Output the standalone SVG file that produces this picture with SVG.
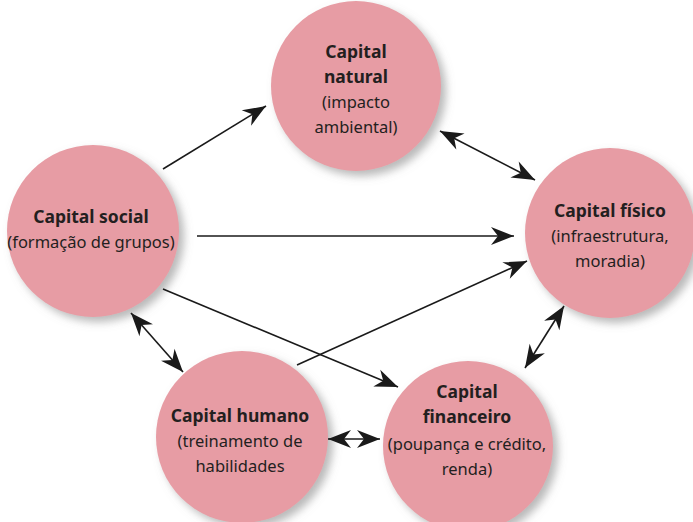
<svg xmlns="http://www.w3.org/2000/svg" width="693" height="522" viewBox="0 0 693 522">
  <defs>
    <filter id="shadow" x="-20%" y="-20%" width="150%" height="150%">
      <feDropShadow dx="5" dy="5" stdDeviation="4" flood-color="#808080" flood-opacity="0.55"/>
    </filter>
    <marker id="head" viewBox="-24 -10 26 20" refX="0" refY="0" markerWidth="26" markerHeight="20" markerUnits="userSpaceOnUse" orient="auto-start-reverse">
      <path d="M0,0 L-23,-9 L-16,0 L-23,9 Z" fill="#1a1a1a"/>
    </marker>
  </defs>
  <style>
    .node circle { fill: #e79ca4; filter: url(#shadow); }
    text { font-family: "Noto Sans", "Open Sans", sans-serif; font-size: 16.5px; fill: #231f20; text-anchor: middle; }
    .title { font-weight: bold; font-size: 17.5px; }
    .link { stroke: #1a1a1a; stroke-width: 1.6; fill: none; }
    .one { marker-end: url(#head); }
    .two { marker-start: url(#head); marker-end: url(#head); }
  </style>

  <rect width="693" height="522" fill="#ffffff"/>

  <g id="capital-natural" class="node">
    <circle cx="356" cy="86" r="85"/>
    <text x="356" y="58" class="title">Capital</text>
    <text x="356" y="83" class="title">natural</text>
    <text x="356" y="108">(impacto</text>
    <text x="356" y="133">ambiental)</text>
  </g>

  <g id="capital-social" class="node">
    <circle cx="93" cy="231" r="86"/>
    <text x="91" y="223" class="title">Capital social</text>
    <text x="91" y="248">(formação de grupos)</text>
  </g>

  <g id="capital-fisico" class="node">
    <circle cx="610" cy="233" r="85"/>
    <text x="610" y="217" class="title">Capital físico</text>
    <text x="610" y="242">(infraestrutura,</text>
    <text x="610" y="267">moradia)</text>
  </g>

  <g id="capital-humano" class="node">
    <circle cx="242" cy="437" r="86"/>
    <text x="240" y="422" class="title">Capital humano</text>
    <text x="240" y="447">(treinamento de</text>
    <text x="240" y="472">habilidades</text>
  </g>

  <g id="capital-financeiro" class="node">
    <circle cx="468" cy="446" r="85"/>
    <text x="467" y="398" class="title">Capital</text>
    <text x="467" y="423" class="title">financeiro</text>
    <text x="467" y="450">(poupança e crédito,</text>
    <text x="467" y="475">renda)</text>
  </g>

  <g id="connectors">
    <line class="link one" x1="163" y1="169" x2="266" y2="106"/>
    <line class="link one" x1="197" y1="236" x2="514" y2="236"/>
    <line class="link one" x1="163" y1="289" x2="398" y2="387"/>
    <line class="link one" x1="297" y1="365" x2="527" y2="261"/>
    <line class="link two" x1="440" y1="131" x2="535" y2="180"/>
    <line class="link two" x1="131" y1="313" x2="183" y2="372"/>
    <line class="link two" x1="564" y1="306" x2="525" y2="368"/>
    <line class="link two" x1="328" y1="439" x2="380" y2="439"/>
  </g>
</svg>
